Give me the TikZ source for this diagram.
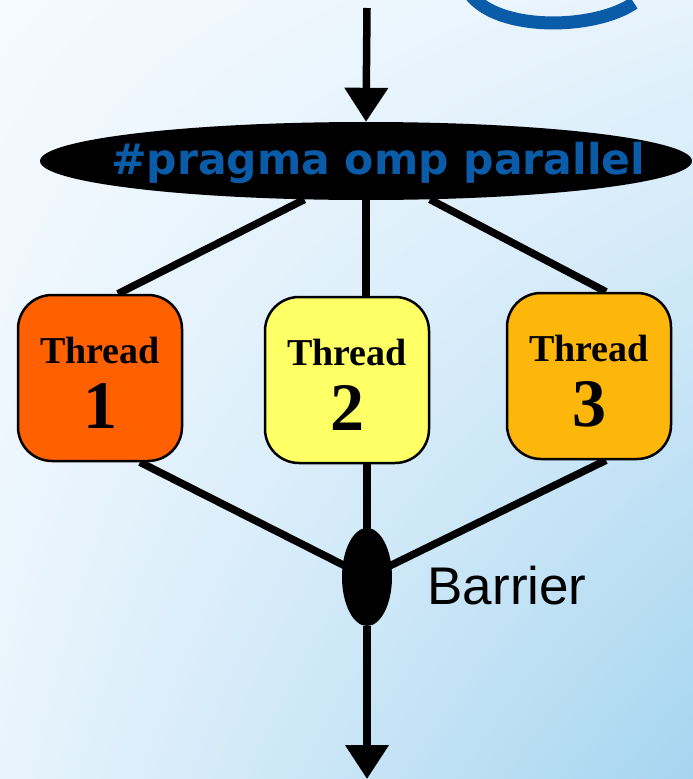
\documentclass[tikz,border=0pt]{standalone}
\usepackage{fontspec}
\setmainfont{Liberation Serif}
\newfontfamily\pragmafont{DejaVu Sans}
\newfontfamily\labelfont{Liberation Sans}
\usetikzlibrary{shapes.geometric,arrows.meta,shadings}

\pgfdeclarelayer{backdrop}
\pgfdeclarelayer{wires}
\pgfsetlayers{backdrop,wires,main}

\definecolor{bgTL}{HTML}{F5FAFF}
\definecolor{bgTR}{HTML}{E6F3FC}
\definecolor{bgBL}{HTML}{E8F4FC}
\definecolor{bgBR}{HTML}{A6D5F0}
\definecolor{ompblue}{HTML}{0B5CA8}
\definecolor{tone}{HTML}{FF6000}
\definecolor{ttwo}{HTML}{FFFF66}
\definecolor{tthree}{HTML}{FDB60A}

\tikzset{
  flow/.style={line width=7.5pt, draw=black},
  flowarrow/.style={flow, -{Triangle[width=42pt,length=34pt]}},
  threadbox/.style={draw=black, line width=2.5pt, rounded corners=34pt,
    minimum width=164pt, minimum height=166pt, inner sep=0pt},
  threadword/.style={font={\bfseries\fontsize{38}{38}\selectfont}},
  threadnum/.style={font={\bfseries\fontsize{68}{68}\selectfont}},
}

\begin{document}
\begin{tikzpicture}[x=1pt,y=-1pt]
  \useasboundingbox (0,0) rectangle (693,779);
  \begin{pgfonlayer}{backdrop}
    \shade[upper left=bgTL, upper right=bgTR, lower left=bgBL, lower right=bgBR]
      (0,0) rectangle (693,779);
    % blue arc at the top edge
    \draw[ompblue, line width=13pt] (470,-6) .. controls (498,32) and (595,30) .. (634,3);
  \end{pgfonlayer}

  \coordinate (start) at (367,8);
  \coordinate (end) at (367,779);

  % parallel region
  \node[ellipse, fill=black, minimum width=652pt, minimum height=78pt, inner sep=0pt]
    (par) at (366,161) {};
  \node[text=ompblue, font={\pragmafont\bfseries\fontsize{42.5}{42.5}\selectfont}]
    (partext) at (378,163) {\#pragma omp parallel};

  % threads
  \node[threadbox, fill=tone]   (t1) at (100,378) {};
  \node[threadbox, fill=ttwo]   (t2) at (347,380) {};
  \node[threadbox, fill=tthree] (t3) at (589,376) {};
  \foreach \t/\n in {t1/1, t2/2, t3/3} {
    \node[threadword] (\t word) at ([yshift=28pt]\t.center) {Thread};
    \node[threadnum]  (\t num)  at ([yshift=-28pt]\t.center) {\n};
  }

  % barrier
  \node[ellipse, fill=black, minimum width=50pt, minimum height=98pt, inner sep=0pt]
    (bar) at (367,577) {};
  \node[font={\labelfont\fontsize{53}{53}\selectfont}, anchor=west]
    (bartext) at (424,586) {Barrier};

  % connectors, kept behind the shapes
  \begin{pgfonlayer}{wires}
    \draw[flowarrow] (start) -- (par.north);
    \draw[flow] (par.212) -- ([xshift=18pt]t1.north);
    \draw[flow] (par.south) -- (par.south |- t2.north);
    \draw[flow] (par.329) -- ([xshift=17pt]t3.north);
    \draw[flow] ([xshift=40pt]t1.south) -- (bar.center);
    \draw[flow] (bar.north |- t2.south) -- (bar.center);
    \draw[flow] ([xshift=17pt]t3.south) -- (bar.center);
    \draw[flowarrow] (bar.south) -- (end);
  \end{pgfonlayer}
\end{tikzpicture}
\end{document}
